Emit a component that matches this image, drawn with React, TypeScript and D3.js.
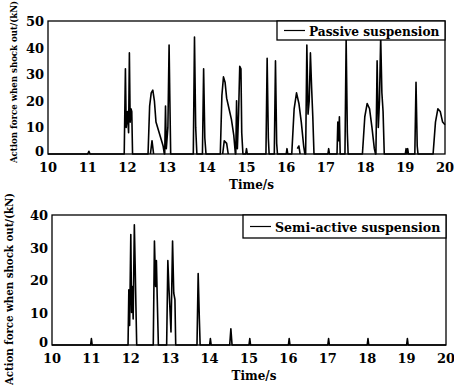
import React from 'react';
import * as d3 from 'd3';

type Pt = [number, number];

const xTicks = [10, 11, 12, 13, 14, 15, 16, 17, 18, 19, 20];
const topYTicks = [0, 10, 20, 30, 40, 50];
const bottomYTicks = [0, 10, 20, 30, 40];

// passive suspension (top)
const passive: Pt[] = [
  [10, 0], [11.0, 0], [11.03, 1], [11.06, 0],
  [11.92, 0], [11.95, 32], [11.97, 10], [12.0, 16], [12.03, 8], [12.05, 38], [12.07, 12], [12.09, 17], [12.11, 16], [12.13, 0],
  [12.52, 0], [12.56, 18], [12.6, 23], [12.64, 24], [12.68, 20], [12.72, 12], [12.78, 9], [12.84, 6], [12.9, 3], [12.93, 0],
  [12.94, 0], [12.96, 18], [12.98, 2], [13.02, 10], [13.05, 41], [13.07, 20], [13.09, 0],
  [13.66, 0], [13.69, 44], [13.72, 10], [13.75, 0],
  [13.89, 0], [13.92, 32], [13.95, 6], [13.98, 0],
  [14.34, 0], [14.38, 22], [14.42, 29], [14.46, 27], [14.5, 21], [14.56, 17], [14.62, 13], [14.68, 7], [14.72, 0],
  [14.73, 0], [14.75, 20], [14.77, 2], [14.8, 15], [14.83, 33], [14.86, 32], [14.88, 8], [14.91, 0],
  [14.98, 0], [15.0, 2], [15.02, 0],
  [15.49, 0], [15.52, 36], [15.55, 6], [15.57, 0],
  [15.7, 0], [15.73, 35], [15.76, 4], [15.78, 0],
  [16.0, 0], [16.02, 2], [16.04, 0],
  [16.14, 0], [16.2, 17], [16.26, 23], [16.32, 19], [16.38, 12], [16.44, 3], [16.47, 0],
  [16.49, 0], [16.52, 41], [16.55, 15], [16.58, 20], [16.61, 38], [16.64, 25], [16.67, 14], [16.7, 0],
  [17.05, 0], [17.07, 2], [17.09, 0],
  [17.28, 0], [17.3, 12], [17.32, 5], [17.34, 14], [17.36, 0],
  [17.48, 0], [17.51, 43], [17.54, 8], [17.56, 0],
  [17.92, 0], [17.98, 14], [18.04, 19], [18.1, 17], [18.16, 10], [18.22, 2], [18.25, 0],
  [18.26, 0], [18.29, 35], [18.32, 10], [18.35, 20], [18.38, 44], [18.41, 23], [18.44, 16], [18.47, 0],
  [19.0, 0], [19.02, 2], [19.04, 0], [19.06, 2], [19.08, 0],
  [19.24, 0], [19.27, 27], [19.3, 3], [19.32, 0],
  [19.7, 0], [19.76, 12], [19.82, 17], [19.88, 16], [19.94, 12], [20, 11],
];

// small humps drawn inside the big ones
const passiveInner: Pt[][] = [
  [[12.58, 0], [12.62, 5], [12.66, 0]],
  [[14.4, 0], [14.44, 5], [14.5, 4], [14.54, 0]],
  [[16.28, 2], [16.32, 3], [16.35, 0]],
];

// semi-active suspension (bottom)
const semiActive: Pt[] = [
  [10, 0], [10.98, 0], [11.0, 2], [11.02, 0],
  [11.93, 0], [11.95, 17], [11.97, 6], [12.0, 34], [12.02, 10], [12.04, 18], [12.06, 8], [12.09, 37], [12.11, 25], [12.13, 12], [12.15, 0],
  [12.57, 0], [12.6, 32], [12.63, 18], [12.65, 26], [12.67, 15], [12.7, 0],
  [12.91, 0], [12.94, 26], [12.97, 17], [12.99, 12], [13.02, 4], [13.06, 32], [13.09, 16], [13.12, 14], [13.14, 0],
  [13.68, 0], [13.71, 22], [13.74, 8], [13.76, 0],
  [14.0, 0], [14.02, 2], [14.04, 0],
  [14.51, 0], [14.54, 5], [14.57, 0],
  [15.0, 0], [15.02, 2], [15.04, 0],
  [16.0, 0], [16.02, 2], [16.04, 0],
  [17.0, 0], [17.02, 2], [17.04, 0],
  [18.0, 0], [18.02, 2], [18.04, 0],
  [19.0, 0], [19.02, 2], [19.04, 0],
  [20, 0],
];

const FONT = '"DejaVu Serif", "Liberation Serif", serif';

interface PanelProps {
  top: number;
  left: number;
  right: number;
  bottom: number;
  yMax: number;
  yTicks: number[];
  series: Pt[][];
  label: string;
  legendX: number;
  legendH: number;
  legendSize: number;
  yTitleX: number;
  yTitleY: number;
  yTitleSize: number;
}

const Panel: React.FC<PanelProps> = ({
  top, left, right, bottom, yMax, yTicks, series, label, legendX, legendH, legendSize, yTitleX, yTitleY, yTitleSize,
}) => {
  const x = d3.scaleLinear().domain([10, 20]).range([left, right]);
  const y = d3.scaleLinear().domain([0, yMax]).range([bottom, top]);
  const line = d3.line<Pt>().x(d => x(d[0])).y(d => y(d[1]));

  return (
    <g>
      {series.map((s, i) => (
        <path key={i} d={line(s) || ''} fill="none" stroke="#000" strokeWidth={1.6} strokeLinejoin="round" />
      ))}
      <rect x={left} y={top} width={right - left} height={bottom - top} fill="none" stroke="#000" strokeWidth={1.3} />
      {xTicks.map(t => (
        <text key={t} x={x(t)} y={bottom + 18} textAnchor="middle" fontFamily={FONT} fontWeight="bold" fontSize={13}>
          {t}
        </text>
      ))}
      {yTicks.map(t => (
        <text
          key={t}
          x={left - 4}
          y={t === 0 ? y(t) + 2 : y(t) + 5}
          textAnchor="end"
          fontFamily={FONT}
          fontWeight="bold"
          fontSize={13}
        >
          {t}
        </text>
      ))}
      <text x={(left + right) / 2 + 5} y={bottom + 35} textAnchor="middle" fontFamily={FONT} fontWeight="bold" fontSize={12}>
        Time/s
      </text>
      <text
        transform={`translate(${yTitleX}, ${yTitleY}) rotate(-90)`}
        textAnchor="middle"
        fontFamily={FONT}
        fontWeight="bold"
        fontSize={yTitleSize}
      >
        Action force when shock out/(kN)
      </text>
      <rect x={legendX} y={top} width={right - legendX} height={legendH} fill="#fff" stroke="#000" strokeWidth={1.3} />
      <line x1={legendX + 7} x2={legendX + 28} y1={top + legendH / 2} y2={top + legendH / 2} stroke="#000" strokeWidth={1.2} />
      <text x={legendX + 32} y={top + legendH / 2 + 5} fontFamily={FONT} fontWeight="bold" fontSize={legendSize}>
        {label}
      </text>
    </g>
  );
};

export default function App() {
  return (
    <svg width={454} height={386} style={{ position: 'absolute', left: 0, top: 0, background: '#fff' }}>
      <rect width={454} height={386} fill="#fff" />
      <Panel
        top={21}
        left={48}
        right={445}
        bottom={154}
        yMax={50}
        yTicks={topYTicks}
        series={[passive, ...passiveInner]}
        label="Passive suspension"
        legendX={277}
        legendH={19}
        legendSize={12.2}
        yTitleX={17}
        yTitleY={82}
        yTitleSize={8.6}
      />
      <Panel
        top={215}
        left={52}
        right={446}
        bottom={345}
        yMax={40}
        yTicks={bottomYTicks}
        series={[semiActive]}
        label="Semi-active suspension"
        legendX={243}
        legendH={23}
        legendSize={12.6}
        yTitleX={13}
        yTitleY={289}
        yTitleSize={10.2}
      />
    </svg>
  );
}
